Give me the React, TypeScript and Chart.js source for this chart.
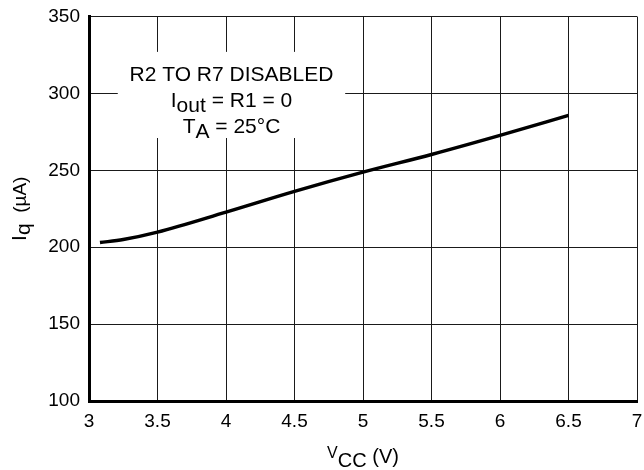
import React, { useEffect, useRef } from "react";
import { Chart, registerables } from "chart.js";

Chart.register(...registerables);

// ---- data ----
const vccValues = [3.08, 3.25, 3.5, 4, 4.5, 5, 5.5, 6, 6.5];
const iqValues = [203, 205, 209.8, 222.8, 236.3, 248.8, 260.3, 272.7, 285.7];

const xMin = 3;
const xMax = 7;
const xStep = 0.5;
const yMin = 100;
const yMax = 350;
const yStep = 50;

type Seg = { t: string; size?: number; dy?: number };

const noteLines: Seg[][] = [
  [{ t: "R2 TO R7 DISABLED" }],
  [{ t: "I" }, { t: "out", dy: 5 }, { t: " = R1 = 0" }],
  [{ t: "T" }, { t: "A", dy: 5 }, { t: " = 25°C" }],
];
// annotation box in data units
const noteBoxX = [3.21, 4.87];
const noteBoxY = [271, 327];
const noteCenterX = 4.04;
const noteFirstBaselineY = 308;

const xTitleSegs: Seg[] = [
  { t: "V", size: 16, dy: -5 },
  { t: "CC", dy: 4 },
  { t: " (V)" },
];
const yTitleSegs: Seg[] = [
  { t: "I" },
  { t: "q", dy: 4 },
  { t: "  (µA)", size: 19 },
];

const FONT = '"Liberation Sans", Arial, Helvetica, sans-serif';

function drawSegs(
  ctx: CanvasRenderingContext2D,
  segs: Seg[],
  cx: number,
  baseline: number,
  defSize: number
) {
  let total = 0;
  const widths = segs.map((s) => {
    ctx.font = `${s.size ?? defSize}px ${FONT}`;
    const w = ctx.measureText(s.t).width;
    total += w;
    return w;
  });
  let x = cx - total / 2;
  ctx.textAlign = "left";
  ctx.textBaseline = "alphabetic";
  segs.forEach((s, i) => {
    ctx.font = `${s.size ?? defSize}px ${FONT}`;
    ctx.fillText(s.t, x, baseline + (s.dy ?? 0));
    x += widths[i];
  });
}

const notePlugin = {
  id: "notePlugin",
  beforeDatasetsDraw(chart: any) {
    const { ctx, scales } = chart;
    const xs = scales.x;
    const ys = scales.y;
    const l = xs.getPixelForValue(noteBoxX[0]);
    const r = xs.getPixelForValue(noteBoxX[1]);
    const t = ys.getPixelForValue(noteBoxY[1]);
    const b = ys.getPixelForValue(noteBoxY[0]);
    ctx.save();
    ctx.fillStyle = "#ffffff";
    ctx.fillRect(l, t, r - l, b - t);
    ctx.fillStyle = "#000000";
    const cx = xs.getPixelForValue(noteCenterX);
    const base0 = ys.getPixelForValue(noteFirstBaselineY);
    noteLines.forEach((line, i) => {
      drawSegs(ctx, line, cx, base0 + i * 26, 21);
    });
    ctx.restore();
  },
  afterDraw(chart: any) {
    const { ctx, scales } = chart;
    const xs = scales.x;
    const ys = scales.y;
    ctx.save();
    ctx.fillStyle = "#000000";
    drawSegs(ctx, xTitleSegs, (xs.left + xs.right) / 2, chart.height - 7, 20);
    ctx.translate(26, (ys.top + ys.bottom) / 2);
    ctx.rotate(-Math.PI / 2);
    drawSegs(ctx, yTitleSegs, 0, 0, 21);
    ctx.restore();
  },
};

export default function App() {
  const canvasRef = useRef<HTMLCanvasElement | null>(null);

  useEffect(() => {
    const canvas = canvasRef.current;
    if (!canvas) return;
    const chart = new Chart(canvas, {
      type: "line",
      data: {
        datasets: [
          {
            data: vccValues.map((v, i) => ({ x: v, y: iqValues[i] })),
            borderColor: "#000000",
            borderWidth: 3.5,
            pointRadius: 0,
            cubicInterpolationMode: "monotone",
            fill: false,
          },
        ],
      },
      options: {
        responsive: false,
        animation: false,
        layout: { padding: { top: 16.5, right: 7, left: 0, bottom: 0 } },
        plugins: {
          legend: { display: false },
          tooltip: { enabled: false },
          title: { display: false },
        },
        scales: {
          x: {
            type: "linear",
            min: xMin,
            max: xMax,
            afterFit: (s: any) => {
              s.height = 69;
              s.paddingLeft = 0;
              s.paddingRight = 0;
            },
            ticks: {
              stepSize: xStep,
              color: "#000",
              padding: 9,
              font: { family: FONT, size: 19 },
              maxRotation: 0,
              callback: (v: any) => String(Number(v)),
            },
            grid: { color: "#1a1a1a", lineWidth: 1, drawTicks: false },
            border: { display: true, color: "#000", width: 3 },
          },
          y: {
            type: "linear",
            min: yMin,
            max: yMax,
            afterFit: (s: any) => {
              s.width = 89;
              s.paddingTop = 0;
              s.paddingBottom = 0;
            },
            ticks: {
              stepSize: yStep,
              color: "#000",
              padding: 9,
              font: { family: FONT, size: 19 },
              callback: (v: any) => String(Number(v)),
            },
            grid: { color: "#1a1a1a", lineWidth: 1, drawTicks: false },
            border: { display: true, color: "#000", width: 3 },
          },
        },
      },
      plugins: [notePlugin],
    } as any);
    return () => chart.destroy();
  }, []);

  return (
    <div style={{ position: "fixed", left: 0, top: 0, width: 644, height: 470, background: "#fff" }}>
      <canvas ref={canvasRef} width={644} height={470} style={{ display: "block", width: 644, height: 470 }} />
    </div>
  );
}
